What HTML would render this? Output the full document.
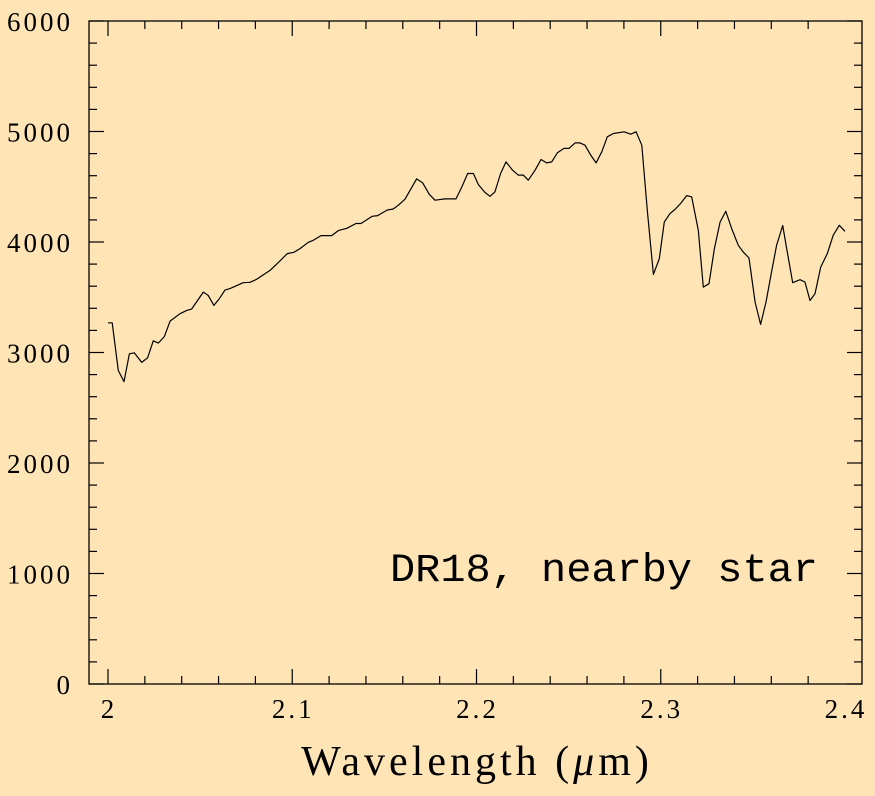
<!DOCTYPE html>
<html><head><meta charset="utf-8"><style>
html,body{margin:0;padding:0;background:#FFE4B5;}
svg{display:block;font-family:"Liberation Serif",serif;}
</style></head><body>
<svg id="chart" width="875" height="796">
<rect width="875" height="796" fill="#FFE4B5"/>
</svg>
<script>
const wavelengths=[2.0000,2.0023,2.0056,2.0087,2.0116,2.0143,2.0183,2.0215,2.0246,2.0273,2.0306,2.0337,2.0391,2.0427,2.0454,2.0517,2.0544,2.0575,2.0604,2.0635,2.0662,2.0734,2.0771,2.0807,2.0879,2.0924,2.0973,2.1009,2.1042,2.1087,2.1114,2.1156,2.1214,2.1250,2.1296,2.1346,2.1373,2.1434,2.1464,2.1516,2.1548,2.1576,2.1612,2.1675,2.1708,2.1744,2.1775,2.1829,2.1889,2.1920,2.1952,2.1983,2.2010,2.2046,2.2073,2.2100,2.2131,2.2160,2.2196,2.2227,2.2254,2.2281,2.2318,2.2350,2.2381,2.2408,2.2439,2.2475,2.2502,2.2535,2.2562,2.2589,2.2620,2.2649,2.2680,2.2710,2.2743,2.2801,2.2837,2.2866,2.2897,2.2927,2.2960,2.2992,2.3019,2.3050,2.3077,2.3108,2.3141,2.3168,2.3204,2.3231,2.3262,2.3291,2.3322,2.3353,2.3385,2.3421,2.3448,2.3479,2.3512,2.3542,2.3571,2.3602,2.3629,2.3662,2.3687,2.3716,2.3756,2.3783,2.3810,2.3837,2.3868,2.3904,2.3936,2.3969,2.4000];
const fluxValues=[3269,3269,2837,2737,2988,2997,2910,2952,3106,3085,3145,3284,3351,3381,3393,3547,3517,3426,3487,3565,3578,3632,3635,3662,3743,3813,3895,3907,3940,3997,4015,4058,4058,4103,4124,4167,4167,4233,4239,4290,4299,4333,4387,4571,4535,4432,4378,4390,4390,4498,4620,4620,4520,4448,4414,4453,4620,4725,4650,4605,4605,4559,4650,4747,4716,4725,4807,4847,4847,4897,4897,4876,4786,4716,4816,4952,4982,4997,4976,4997,4876,4287,3707,3849,4181,4257,4294,4348,4420,4408,4106,3592,3623,3940,4181,4278,4121,3970,3909,3855,3456,3254,3456,3737,3970,4149,3909,3632,3659,3637,3471,3532,3773,3895,4061,4151,4097];
const xTickLabels=["2","2.1","2.2","2.3","2.4"];
const xTickValues=[2.0,2.1,2.2,2.3,2.4];
const yTickLabels=["0","1000","2000","3000","4000","5000","6000"];
const yTickValues=[0,1000,2000,3000,4000,5000,6000];

const NS="http://www.w3.org/2000/svg";
const svg=document.getElementById('chart');
const L=89,R=862,T=21,B=684;
const xs=w=>108+(w-2.0)*1842.5;
const ys=f=>B-(f/6000)*(B-T);
function mk(tag,attrs,parent){const e=document.createElementNS(NS,tag);for(const k in attrs)e.setAttribute(k,attrs[k]);(parent||svg).appendChild(e);return e;}

const frame=mk('rect',{x:L,y:T,width:R-L,height:B-T,fill:'none',stroke:'#000','stroke-width':1.3});



const ticks=mk('g',{stroke:'#000','stroke-width':1.2});


for(let i=0;i<=20;i++){const w=1.98+i*0.02+1e-9;if(w<1.99||w>2.41)continue;const x=xs(w);const major=Math.abs(w*10-Math.round(w*10))<1e-6;const len=major?15:8;
 mk('line',{x1:x,y1:B,x2:x,y2:B-len},ticks);mk('line',{x1:x,y1:T,x2:x,y2:T+len},ticks);}
for(let v=0;v<=6000;v+=200){const y=ys(v);const len=(v%1000===0)?15:8;
 mk('line',{x1:L,y1:y,x2:L+len,y2:y},ticks);mk('line',{x1:R,y1:y,x2:R-len,y2:y},ticks);}

xTickLabels.forEach((t,i)=>{const e=mk('text',{x:xs(xTickValues[i])+1,y:B+34,'text-anchor':'middle','font-size':27,fill:'#000','letter-spacing':'3'});e.textContent=t;
 
 });
yTickLabels.forEach((t,i)=>{const e=mk('text',{x:L-16,y:ys(yTickValues[i])+10,'text-anchor':'end','font-size':27,fill:'#000','letter-spacing':'3'});e.textContent=t;
 
 });

const xt=mk('text',{x:477,y:775,'text-anchor':'middle','font-size':42,fill:'#000','letter-spacing':'4'});
xt.innerHTML='Wavelength (<tspan font-style="italic">μ</tspan>m)';



const ann=mk('text',{x:818,y:581,'text-anchor':'end','font-size':40,fill:'#000','font-family':'Liberation Mono, monospace','textLength':428,'lengthAdjust':'spacingAndGlyphs'});
ann.textContent='DR18, nearby star';



const pts=wavelengths.map((w,i)=>xs(w).toFixed(1)+','+ys(fluxValues[i]).toFixed(1)).join(' ');
const line=mk('polyline',{points:pts,fill:'none',stroke:'#000','stroke-width':1.2,'stroke-linejoin':'round'});


</script>
</body></html>
